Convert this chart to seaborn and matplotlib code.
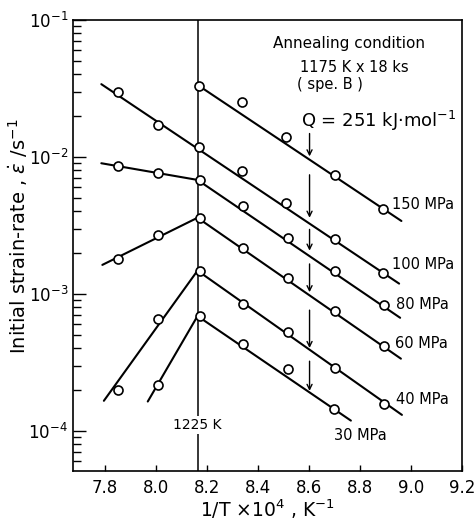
import numpy as np
import pandas as pd
import matplotlib
matplotlib.use("Agg")
import matplotlib.pyplot as plt
import seaborn as sns
from matplotlib.ticker import LogLocator, MultipleLocator, FormatStrFormatter, NullFormatter

# Dados (1/T x10^4 em K^-1, taxa de deformação em s^-1)
stresses = ["150 MPa", "100 MPa", "80 MPa", "60 MPa", "40 MPa", "30 MPa"]

x_pts_150 = [8.168, 8.338, 8.510, 8.703, 8.891]
y_pts_150 = [0.0331, 0.0251, 0.0139, 0.00741, 0.00414]
x_pts_100 = [7.851, 8.007, 8.168, 8.336, 8.510, 8.703, 8.891]
y_pts_100 = [0.0296, 0.0172, 0.01175, 0.00791, 0.00462, 0.00251, 0.00142]
x_pts_80 = [7.851, 8.010, 8.171, 8.340, 8.516, 8.703, 8.894]
y_pts_80 = [0.00865, 0.00762, 0.00681, 0.00437, 0.00258, 0.00148, 0.000828]
x_pts_60 = [7.851, 8.010, 8.171, 8.340, 8.516, 8.703, 8.894]
y_pts_60 = [0.0018, 0.0027, 0.00356, 0.00215, 0.00131, 0.00075, 0.000414]
x_pts_40 = [7.851, 8.010, 8.171, 8.340, 8.516, 8.703, 8.894]
y_pts_40 = [0.000198, 0.000656, 0.00148, 0.000843, 0.000525, 0.000288, 0.000157]
x_pts_30 = [8.007, 8.171, 8.340, 8.516, 8.699]
y_pts_30 = [0.000215, 0.00069, 0.00043, 0.000281, 0.000144]

# Retas ajustadas (vértices)
x_fit_150 = [8.168, 8.962]
y_fit_150 = [0.0331, 0.00341]
x_fit_100 = [7.786, 8.953]
y_fit_100 = [0.034, 0.00119]
x_fit_80 = [7.786, 8.163, 8.957]
y_fit_80 = [0.009, 0.0068, 0.00067]
x_fit_60 = [7.79, 8.163, 8.96]
y_fit_60 = [0.00163, 0.0036, 0.000337]
x_fit_40 = [7.796, 8.163, 8.964]
y_fit_40 = [0.000166, 0.00148, 0.000131]
x_fit_30 = [7.968, 8.163, 8.764]
y_fit_30 = [0.000164, 0.00069, 0.000119]

# Posição dos rótulos de tensão
label_x = [8.926, 8.926, 8.942, 8.938, 8.942, 8.699]
label_y = [0.00448, 0.00165, 0.000832, 0.000435, 0.000171, 9.24e-5]

# Setas em 1/T = 8.6
arrow_x = 8.602
arrow_tail = [0.01483, 0.00741, 0.00296, 0.001656, 0.000762, 0.000323]
arrow_tip = [0.0101, 0.0036, 0.00207, 0.00103, 0.000403, 0.000196]

T_boundary = 1225  # K

pts = pd.concat([
    pd.DataFrame({"x": x, "y": y, "s": s})
    for x, y, s in zip(
        [x_pts_150, x_pts_100, x_pts_80, x_pts_60, x_pts_40, x_pts_30],
        [y_pts_150, y_pts_100, y_pts_80, y_pts_60, y_pts_40, y_pts_30],
        stresses)
], ignore_index=True)

fits = pd.concat([
    pd.DataFrame({"x": x, "y": y, "s": s})
    for x, y, s in zip(
        [x_fit_150, x_fit_100, x_fit_80, x_fit_60, x_fit_40, x_fit_30],
        [y_fit_150, y_fit_100, y_fit_80, y_fit_60, y_fit_40, y_fit_30],
        stresses)
], ignore_index=True)

sns.set_style("white")
plt.rcParams["font.family"] = ["DejaVu Sans"]
plt.rcParams.update({"text.color": "black", "axes.labelcolor": "black",
                     "xtick.color": "black", "ytick.color": "black"})

fig = plt.figure(figsize=(4.74, 5.23), dpi=100)
ax = fig.add_axes([0.154, 0.0994, 0.821, 0.8624])

# Linha vertical em 1225 K
ax.axvline(1e4 / T_boundary, color="black", lw=1.1, zorder=1)

for s in stresses:
    sub = fits[fits["s"] == s]
    sns.lineplot(data=sub, x="x", y="y", ax=ax, color="black", lw=1.5,
                 estimator=None, sort=False, zorder=2)

sns.scatterplot(data=pts, x="x", y="y", ax=ax, marker="o", s=42,
                facecolor="white", edgecolor="black", linewidth=1.2, zorder=3)

for tail, tip in zip(arrow_tail, arrow_tip):
    ax.annotate("", xy=(arrow_x, tip), xytext=(arrow_x, tail),
                arrowprops=dict(arrowstyle="->", lw=1.0, color="black",
                                shrinkA=0, shrinkB=0, mutation_scale=9))

for s, lx, ly in zip(stresses, label_x, label_y):
    ax.text(lx, ly, s, fontsize=10.5, ha="left", va="center")

ax.text(8.758, 0.0674, "Annealing condition", fontsize=11, ha="center", va="center")
ax.text(8.777, 0.0452, "1175 K x 18 ks", fontsize=10.5, ha="center", va="center")
ax.text(8.68, 0.034, "( spe. B )", fontsize=10.5, ha="center", va="center")
ax.text(8.570, 0.0184, r"Q = 251 kJ$\cdot$mol$^{-1}$", fontsize=13, ha="left", va="center")
ax.text(1e4 / T_boundary, 0.000111, "1225 K", fontsize=10, ha="center", va="center",
        bbox=dict(facecolor="white", edgecolor="none", pad=1.5), zorder=4)

ax.set_yscale("log")
ax.set_xlim(7.675, 9.2)
ax.set_ylim(5.1e-5, 0.1)
ax.xaxis.set_major_locator(MultipleLocator(0.2))
ax.xaxis.set_major_formatter(FormatStrFormatter("%.1f"))
ax.yaxis.set_major_locator(LogLocator(base=10))
ax.yaxis.set_minor_locator(LogLocator(base=10, subs=np.arange(2, 10)))
ax.yaxis.set_minor_formatter(NullFormatter())

ax.tick_params(axis="both", which="both", left=True, bottom=True, right=False, top=False)
ax.tick_params(axis="x", direction="in", length=4, width=1, labelsize=12, pad=6)
ax.tick_params(axis="y", which="major", direction="in", length=9, width=1, labelsize=12)
ax.tick_params(axis="y", which="minor", direction="in", length=6, width=1)
for sp in ax.spines.values():
    sp.set_linewidth(1.2)
    sp.set_color("black")

ax.set_xlabel(r"1/T $\times$10$^4$ , K$^{-1}$", fontsize=13.5, labelpad=0)
ax.set_ylabel(r"Initial strain-rate , $\dot{\varepsilon}$ /s$^{-1}$", fontsize=14, labelpad=0)
ax.yaxis.set_label_coords(-0.11, 0.52)

fig.savefig("out.png", dpi=100)
